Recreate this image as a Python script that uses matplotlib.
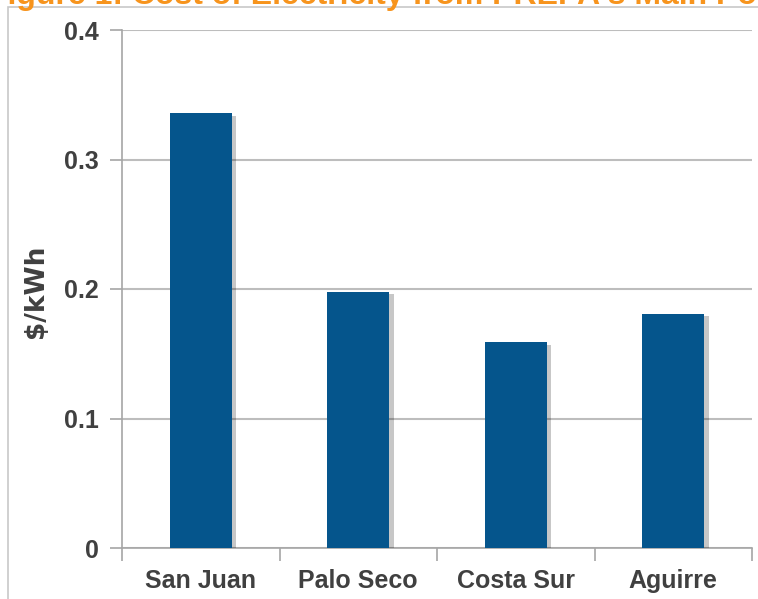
import matplotlib
matplotlib.use("Agg")
import matplotlib.pyplot as plt
from matplotlib.patches import Rectangle
import matplotlib.patheffects as pe

categories = ["San Juan", "Palo Seco", "Costa Sur", "Aguirre"]
values = [0.336, 0.198, 0.159, 0.181]
yticks = [0, 0.1, 0.2, 0.3, 0.4]
ytick_labels = ["0", "0.1", "0.2", "0.3", "0.4"]
title = "Figure 1: Cost of Electricity from PREPA's Main Power Plants"
ylabel = "$/kWh"

W, H = 758, 599
fig = plt.figure(figsize=(W/100, H/100), dpi=100)
plt.rcParams['font.family'] = ['Liberation Sans', 'DejaVu Sans']

# outer frame (partially cut off)
fig.patches.append(Rectangle((8/W, -0.1), 1.2, 1 - 7/H + 0.1, transform=fig.transFigure,
                             fill=False, edgecolor='#C8C8C8', linewidth=1.2))
# clipped title
fig.text(-12/W, 1 - 4/H, title, color='#F7941D', fontsize=23, fontweight='bold',
         ha='left', va='baseline')

ax = fig.add_axes([122/W, 51/H, (752-122)/W, (548-30)/H])
x = list(range(len(categories)))
bars = ax.bar(x, values, width=0.395, color='#05558C', zorder=3,
              path_effects=[pe.SimplePatchShadow(offset=(3, -2), shadow_rgbFace='#000000', alpha=0.22), pe.Normal()])
ax.set_xlim(-0.5, len(categories) - 0.5)
ax.set_ylim(0, 0.4)
ax.set_yticks(yticks)
ax.set_yticklabels(ytick_labels)
ax.yaxis.grid(True, color='#BDBDBD', linewidth=1.5, zorder=0)
ax.set_axisbelow(True)

ax.set_xticks([i - 0.5 for i in range(len(categories) + 1)])
ax.set_xticklabels([])
ax.set_xticks(x, minor=True)
ax.set_xticklabels(categories, minor=True)
ax.tick_params(axis='x', which='minor', length=0, pad=15)
ax.tick_params(axis='x', which='major', length=9, color='#A6A6A6', width=1.2, direction='out')
ax.tick_params(axis='y', length=9, color='#A6A6A6', width=1.2, pad=8)
for lab in ax.get_xticklabels(minor=True):
    lab.set_fontsize(18); lab.set_fontweight('bold'); lab.set_color('#404040')
for lab in ax.get_yticklabels():
    lab.set_fontsize(18); lab.set_fontweight('bold'); lab.set_color('#404040')

for s in ['top', 'right']:
    ax.spines[s].set_visible(False)
for s in ['left', 'bottom']:
    ax.spines[s].set_color('#A6A6A6')
    ax.spines[s].set_linewidth(1.2)

ax.set_ylabel(ylabel, fontsize=19, fontweight='bold', color='#404040',
              family=['DejaVu Sans'], va='center')
ax.yaxis.set_label_coords(-(122-36)/(752-122), (548-291)/(548-30))

fig.savefig("out.png", dpi=100)
